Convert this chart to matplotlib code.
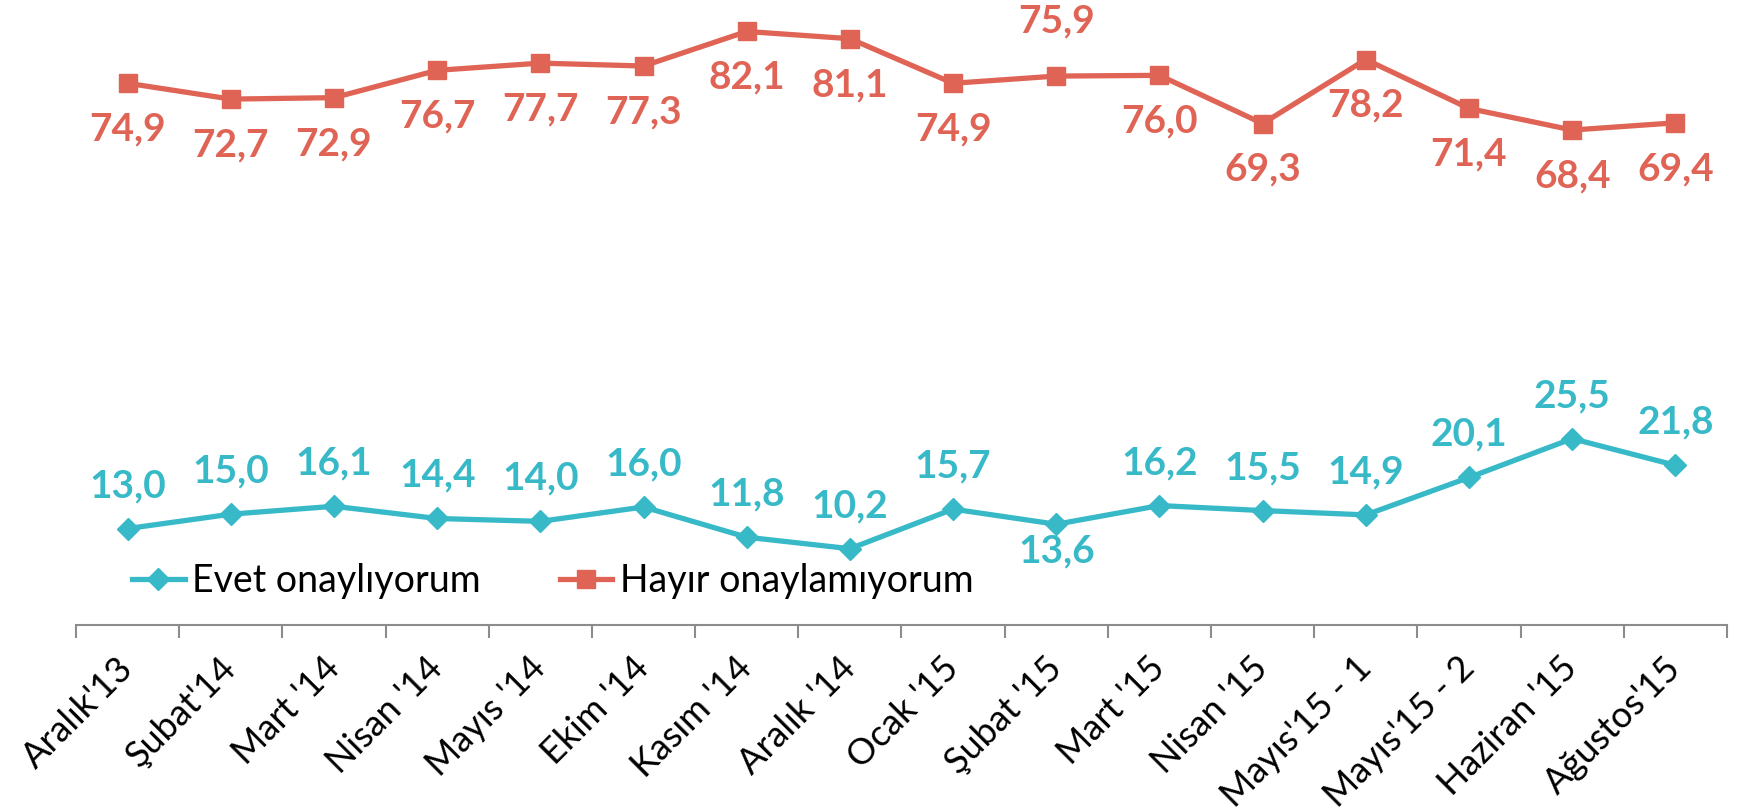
import numpy as np
import matplotlib
matplotlib.use("Agg")
import matplotlib.pyplot as plt

plt.rcParams['font.family'] = ['Lato', 'DejaVu Sans']

# Kategoriler
months = ["Aralık'13", "Şubat'14", "Mart '14", "Nisan '14", "Mayıs '14",
          "Ekim '14", "Kasım '14", "Aralık '14", "Ocak '15", "Şubat '15",
          "Mart '15", "Nisan '15", "Mayıs'15 - 1", "Mayıs'15 - 2",
          "Haziran '15", "Ağustos'15"]

# Seriler
evet = [13.0, 15.0, 16.1, 14.4, 14.0, 16.0, 11.8, 10.2, 15.7, 13.6,
        16.2, 15.5, 14.9, 20.1, 25.5, 21.8]
hayir = [74.9, 72.7, 72.9, 76.7, 77.7, 77.3, 82.1, 81.1, 74.9, 75.9,
         76.0, 69.3, 78.2, 71.4, 68.4, 69.4]

# label offset in points (positive = above the point)
evet_off = [31] * 16
evet_off[9] = -19
hayir_off = [-33] * 16
hayir_off[9] = 40

cyan = '#38B9C8'
red = '#E06456'

fig = plt.figure(figsize=(17.4, 8.1), dpi=100)
ax = fig.add_axes([0.0437, 0.228, 0.9488, 0.766])

x = np.arange(len(months))
ax.plot(x, evet, color=cyan, lw=3.8, marker='D', markersize=11,
        label='Evet onaylıyorum', clip_on=False)
ax.plot(x, hayir, color=red, lw=3.8, marker='s', markersize=13,
        label='Hayır onaylamıyorum', clip_on=False)

for xi, v, o in zip(x, evet, evet_off):
    ax.annotate(f"{v:.1f}".replace('.', ','), (xi, v), xytext=(0, o),
                textcoords='offset points', ha='center', va='center',
                color=cyan, fontsize=28, fontweight='bold')
for xi, v, o in zip(x, hayir, hayir_off):
    ax.annotate(f"{v:.1f}".replace('.', ','), (xi, v), xytext=(0, o),
                textcoords='offset points', ha='center', va='center',
                color=red, fontsize=28, fontweight='bold')

ax.set_xlim(-0.5, len(months) - 0.5)
ax.set_ylim(-0.45, 85.8)

for side in ['left', 'right', 'top']:
    ax.spines[side].set_visible(False)
ax.spines['bottom'].set_color('#8C8C8C')
ax.spines['bottom'].set_linewidth(1.5)
ax.set_yticks([])

ax.set_xticks(np.arange(len(months) + 1) - 0.5)
ax.set_xticklabels([])
ax.tick_params(axis='x', which='major', length=9, width=1.5,
               color='#8C8C8C', direction='out')
ax.set_xticks(x, minor=True)
ax.set_xticklabels(months, minor=True, rotation=45, ha='right',
                   va='center', rotation_mode='anchor', fontsize=26)
ax.tick_params(axis='x', which='minor', length=0, pad=27)

ax.legend(loc='center left', bbox_to_anchor=(0.034, 0.072), ncol=2,
          frameon=False, fontsize=27, handlelength=1.4, handletextpad=0.2,
          columnspacing=2.1, borderpad=0, borderaxespad=0)

plt.savefig('out.png', dpi=100)
